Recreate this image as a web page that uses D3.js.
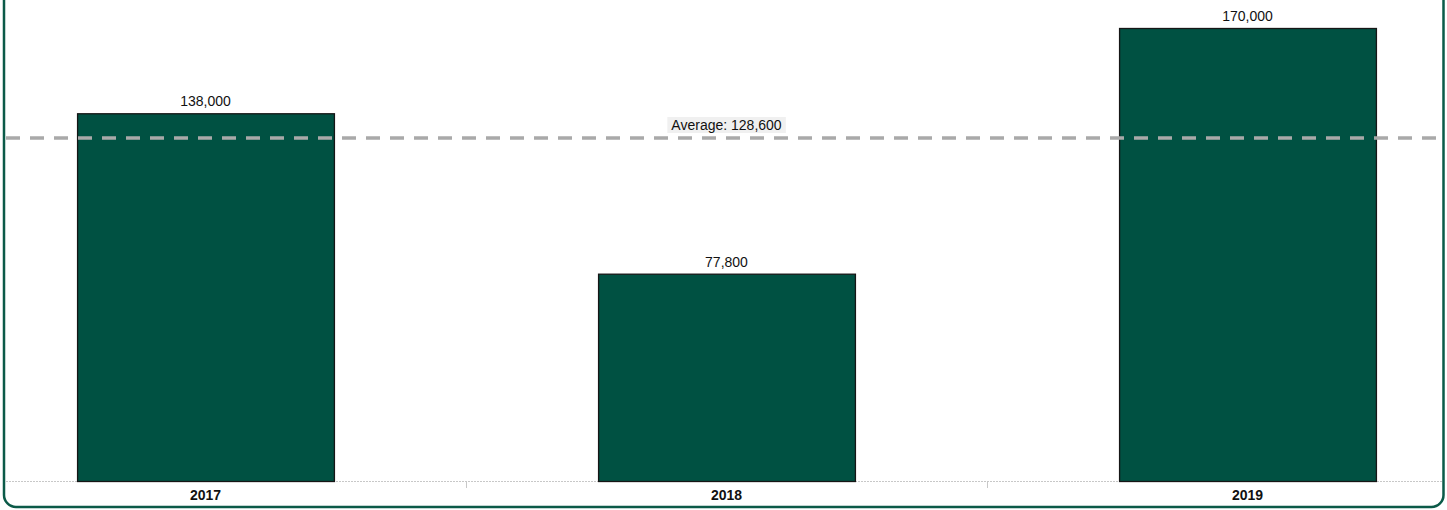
<!DOCTYPE html>
<html>
<head>
<meta charset="utf-8">
<script src="https://cdn.jsdelivr.net/npm/d3@7"></script>
<style>
  body { margin: 0; background: #fff; overflow: hidden; }
  text { font-family: "Liberation Sans", Arial, sans-serif; }
</style>
</head>
<body>
<div id="chart-container"></div>
<script>
// chart data
const years = ["2017", "2018", "2019"];
const values = [138000, 77800, 170000];
const averageValue = 128600;

const W = 1447, H = 510;
const baseY = 481;

const svg = d3.select("#chart-container")
    .append("svg")
    .attr("width", W)
    .attr("height", H);

// card border (top is outside the view)
svg.append("rect")
    .attr("x", 4)
    .attr("y", -30)
    .attr("width", W - 7.5)
    .attr("height", H + 30 - 3)
    .attr("rx", 12)
    .attr("fill", "none")
    .attr("stroke", "#0b5a48")
    .attr("stroke-width", 2.5);

const x = d3.scaleBand()
    .domain(years)
    .range([-55, 1508])
    .paddingInner(0.507)
    .paddingOuter(0.2535);

const y = d3.scaleLinear()
    .domain([0, 170000])
    .range([baseY, 28]);

// baseline
svg.append("line")
    .attr("x1", 6).attr("x2", W - 5)
    .attr("y1", baseY + 0.5).attr("y2", baseY + 0.5)
    .attr("stroke", "#c8c8c8")
    .attr("stroke-dasharray", "2,1");

// ticks between categories
years.slice(1).forEach(yr => {
    const tx = Math.round(x(yr) - x.step() * x.paddingInner() / 2) + 0.5;
    svg.append("line")
        .attr("x1", tx).attr("x2", tx)
        .attr("y1", baseY).attr("y2", baseY + 7)
        .attr("stroke", "#c8c8c8");
});

// bars
svg.selectAll(".bar")
    .data(years)
    .join("rect")
    .attr("class", "bar")
    .attr("x", d => x(d) + 0.5)
    .attr("y", (d, i) => y(values[i]) + 0.5)
    .attr("width", x.bandwidth())
    .attr("height", (d, i) => baseY - y(values[i]))
    .attr("fill", "#005142")
    .attr("stroke", "#161616")
    .attr("stroke-width", 1.3);

// value labels
svg.selectAll(".val")
    .data(years)
    .join("text")
    .attr("class", "val")
    .attr("x", d => x(d) + x.bandwidth() / 2)
    .attr("y", (d, i) => y(values[i]) - 7)
    .attr("text-anchor", "middle")
    .attr("font-size", 14)
    .attr("fill", "#111")
    .text((d, i) => d3.format(",")(values[i]));

// category labels
svg.selectAll(".cat")
    .data(years)
    .join("text")
    .attr("class", "cat")
    .attr("x", d => x(d) + x.bandwidth() / 2)
    .attr("y", baseY + 19)
    .attr("text-anchor", "middle")
    .attr("font-size", 14)
    .attr("font-weight", "bold")
    .attr("fill", "#111")
    .text(d => d);

// average line
const avgY = Math.round(y(averageValue));
svg.append("line")
    .attr("x1", 6).attr("x2", W - 5)
    .attr("y1", avgY).attr("y2", avgY)
    .attr("stroke", "#a9a9a9")
    .attr("stroke-width", 3.5)
    .attr("stroke-dasharray", "14,10");

const avgLabel = svg.append("g");
const avgText = avgLabel.append("text")
    .attr("x", x("2018") + x.bandwidth() / 2)
    .attr("y", avgY - 8)
    .attr("text-anchor", "middle")
    .attr("font-size", 14)
    .attr("fill", "#111")
    .text("Average: " + d3.format(",")(averageValue));
const bb = avgText.node().getBBox();
avgLabel.insert("rect", "text")
    .attr("x", bb.x - 4)
    .attr("y", bb.y)
    .attr("width", bb.width + 8)
    .attr("height", bb.height)
    .attr("fill", "#f0f0f0");
</script>
</body>
</html>
